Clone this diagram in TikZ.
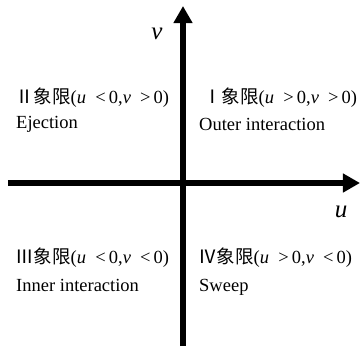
\documentclass[tikz,border=0pt]{standalone}
\usepackage{fontspec}
\setmainfont{Liberation Serif}
\newfontfamily\cjk{Noto Sans CJK SC}
\usetikzlibrary{arrows.meta}

\begin{document}
\begin{tikzpicture}[x=1pt,y=-1pt,
  axisline/.style={line width=5.5pt,-{Triangle[length=17pt,width=18pt]}},
  quadtext/.style={anchor=base west,inner sep=0pt,font=\fontsize{18.5}{22}\selectfont},
  axislabel/.style={inner sep=0pt,font=\fontsize{25}{25}\selectfont\itshape}]
  \useasboundingbox (0,0) rectangle (360,360);
  % axes
  \coordinate (uleft) at (8,183);
  \coordinate (uright) at (360,183);
  \coordinate (vbottom) at (183,346);
  \coordinate (vtop) at (183,6);
  \draw[axisline] (uleft) -- (uright);
  \draw[axisline] (vbottom) -- (vtop);
  \node[axislabel] (vlab) at (157,34) {v};
  \node[axislabel] (ulab) at (341,212) {u};
  % quadrant labels
  \node[quadtext] (q2) at (15,103) {{\cjk Ⅱ象限}(\textit{u}\ \ <\,0,\textit{v}\ \ >\,0)};
  \node[quadtext] (q2b) at (16,128) {Ejection};
  \node[quadtext] (q1) at (203,103) {{\cjk Ⅰ象限}(\textit{u}\ \ >\,0,\textit{v}\ \ >\,0)};
  \node[quadtext] (q1b) at (199,130) {Outer interaction};
  \node[quadtext] (q3) at (15,263) {{\cjk Ⅲ象限}(\textit{u}\ \ <\,0,\textit{v}\ \ <\,0)};
  \node[quadtext] (q3b) at (16,291) {Inner interaction};
  \node[quadtext] (q4) at (198,263) {{\cjk Ⅳ象限}(\textit{u}\ \ >\,0,\textit{v}\ \ <\,0)};
  \node[quadtext] (q4b) at (199,291) {Sweep};
\end{tikzpicture}
\end{document}
